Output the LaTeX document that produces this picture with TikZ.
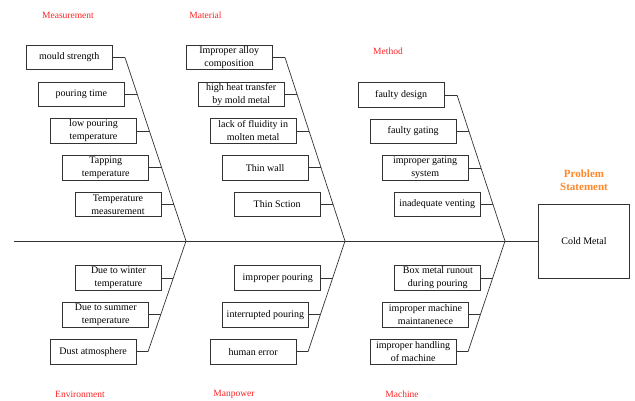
\documentclass[tikz,border=0pt]{standalone}
\usepackage{fontspec}
\setmainfont{Liberation Serif}
\usetikzlibrary{positioning,calc}
\definecolor{catred}{RGB}{255,35,35}
\definecolor{probor}{RGB}{255,135,40}
\tikzset{
  bone/.style={draw=black!80, line width=0.7pt},
  causebox/.style={draw=black!80, line width=0.7pt, minimum width=86pt,
    minimum height=24.5pt, inner sep=0pt, align=center,
    font=\fontsize{10}{13}\selectfont},
  catlabel/.style={text=catred, font=\fontsize{9.5}{11}\selectfont},
}
\begin{document}
\begin{tikzpicture}[x=1pt,y=-1pt]
  \useasboundingbox (0,0) rectangle (635,400);
  % Effect and spine
  \node[draw=black!80, line width=0.7pt, minimum width=91pt, minimum height=74pt,
    font=\fontsize{10}{13}\selectfont] (effect) at (584,241) {Cold Metal};
  \node[text=probor, align=center, font=\fontsize{11}{12.7}\selectfont\bfseries]
    (probl) at (584,180.5) {Problem\\Statement};
  \coordinate (tail) at (14,241);
  \draw[bone] (tail) -- (effect.west);
  % Upper bones
  \coordinate (msTop) at (125,57.5); \coordinate (msJun) at (186,241);
  \coordinate (maTop) at (285,57.5); \coordinate (maJun) at (345,241);
  \coordinate (meTop) at (457,95);   \coordinate (meJun) at (505,241);
  \draw[bone] (msTop) -- (msJun);
  \draw[bone] (maTop) -- (maJun);
  \draw[bone] (meTop) -- (meJun);
  \foreach \t/\txt [count=\k] in {0/mould strength, .2/pouring time,
      .4/{low pouring\\temperature}, .6/{Tapping\\temperature},
      .8/{Temperature\\measurement}}{
    \coordinate (ms\k) at ($(msTop)!\t!(msJun)$);
    \node[causebox, left=12.5pt of ms\k] (msBox\k) {\txt};
    \draw[bone] (msBox\k.east) -- (ms\k);
  }
  \foreach \t/\txt [count=\k] in {0/{Improper alloy\\composition},
      .2/{high heat transfer\\by mold metal}, .4/{lack of fluidity in\\molten metal},
      .6/Thin wall, .8/Thin Sction}{
    \coordinate (ma\k) at ($(maTop)!\t!(maJun)$);
    \node[causebox, left=12.5pt of ma\k] (maBox\k) {\txt};
    \draw[bone] (maBox\k.east) -- (ma\k);
  }
  \foreach \t/\txt [count=\k] in {0/faulty design, .25/faulty gating,
      .5/{improper gating\\system}, .75/inadequate venting}{
    \coordinate (me\k) at ($(meTop)!\t!(meJun)$);
    \node[causebox, left=12.5pt of me\k] (meBox\k) {\txt};
    \draw[bone] (meBox\k.east) -- (me\k);
  }
  % Lower bones
  \coordinate (enEnd) at (148,351.7);
  \coordinate (mpEnd) at (308,351.7);
  \coordinate (mcEnd) at (468,351.7);
  \draw[bone] (msJun) -- (enEnd);
  \draw[bone] (maJun) -- (mpEnd);
  \draw[bone] (meJun) -- (mcEnd);
  \foreach \t/\txt [count=\k] in {.333/{Due to winter\\temperature},
      .667/{Due to summer\\temperature}, 1/Dust atmosphere}{
    \coordinate (en\k) at ($(msJun)!\t!(enEnd)$);
    \node[causebox, left=11.5pt of en\k] (enBox\k) {\txt};
    \draw[bone] (enBox\k.east) -- (en\k);
  }
  \foreach \t/\txt [count=\k] in {.333/improper pouring,
      .667/interrupted pouring, 1/human error}{
    \coordinate (mp\k) at ($(maJun)!\t!(mpEnd)$);
    \node[causebox, left=11.5pt of mp\k] (mpBox\k) {\txt};
    \draw[bone] (mpBox\k.east) -- (mp\k);
  }
  \foreach \t/\txt [count=\k] in {.333/{Box metal runout\\during pouring},
      .667/{improper machine\\maintanenece}, 1/{improper handling\\of machine}}{
    \coordinate (mc\k) at ($(meJun)!\t!(mcEnd)$);
    \node[causebox, left=11.5pt of mc\k] (mcBox\k) {\txt};
    \draw[bone] (mcBox\k.east) -- (mc\k);
  }
  % Category labels
  \node[catlabel] (msLab) at (68,15) {Measurement};
  \node[catlabel] (maLab) at (205.5,15) {Material};
  \node[catlabel] (meLab) at (388,51.7) {Method};
  \node[catlabel] (enLab) at (80,394) {Environment};
  \node[catlabel] (mpLab) at (234,394) {Manpower};
  \node[catlabel] (mcLab) at (402,394) {Machine};
\end{tikzpicture}
\end{document}
